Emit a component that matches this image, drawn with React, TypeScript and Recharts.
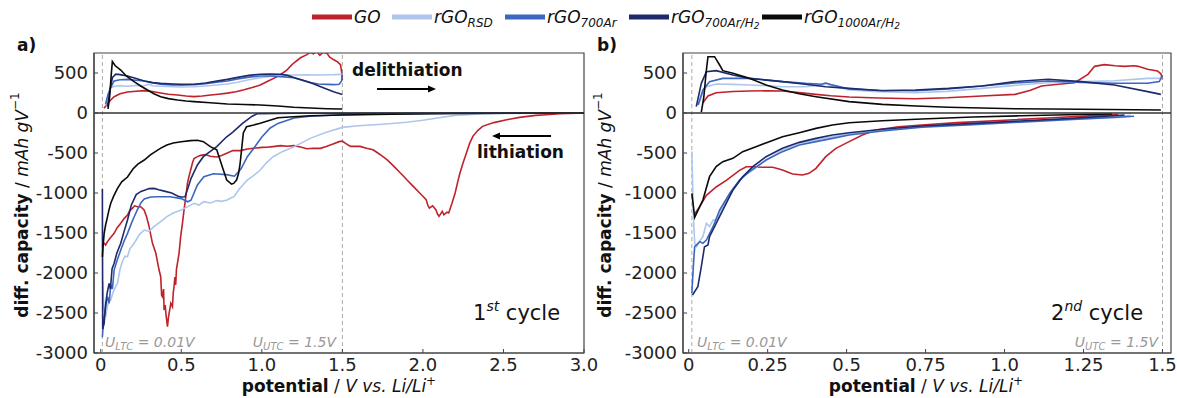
import { LineChart, Line, XAxis, YAxis, ReferenceLine, ReferenceArea } from 'recharts';

type Pt = [number, number];

// ---- 1st cycle, delithiation (potential V, dQ/dV mAh g-1 V-1)
const goDeli1: Pt[] = [[0.02, 60], [0.04, 110], [0.062, 163], [0.083, 204], [0.12, 240], [0.166, 262], [0.22, 272], [0.27, 280], [0.32, 268], [0.372, 250], [0.42, 235], [0.476, 225], [0.53, 212], [0.579, 205], [0.63, 212], [0.683, 225], [0.73, 235], [0.786, 248], [0.84, 265], [0.89, 290], [0.94, 318], [0.99, 350], [1.04, 400], [1.095, 455], [1.13, 500], [1.157, 540], [1.18, 590], [1.198, 625], [1.24, 690], [1.28, 730], [1.3, 760], [1.32, 740], [1.34, 770], [1.36, 720], [1.38, 760], [1.405, 745], [1.42, 700], [1.447, 665], [1.47, 640], [1.488, 605], [1.495, 520], [1.5, 410]];
const rsdDeli1: Pt[] = [[0.03, 90], [0.045, 220], [0.062, 315], [0.083, 335], [0.12, 340], [0.166, 335], [0.22, 345], [0.27, 340], [0.3, 360], [0.32, 340], [0.372, 335], [0.45, 330], [0.5, 325], [0.579, 328], [0.65, 338], [0.72, 350], [0.786, 362], [0.85, 385], [0.92, 415], [0.99, 440], [1.05, 458], [1.12, 470], [1.198, 475], [1.28, 478], [1.35, 475], [1.405, 478], [1.45, 480], [1.5, 485]];
const ar700Deli1: Pt[] = [[0.03, 110], [0.045, 230], [0.062, 320], [0.083, 400], [0.12, 415], [0.166, 420], [0.22, 410], [0.27, 400], [0.32, 380], [0.372, 360], [0.45, 352], [0.5, 350], [0.579, 355], [0.65, 365], [0.72, 385], [0.786, 400], [0.85, 425], [0.92, 448], [0.99, 462], [1.05, 462], [1.12, 455], [1.198, 440], [1.25, 410], [1.3, 380], [1.35, 362], [1.405, 358], [1.45, 355], [1.48, 360], [1.495, 400], [1.5, 480]];
const h2Deli1: Pt[] = [[0.042, 80], [0.06, 320], [0.073, 445], [0.093, 485], [0.12, 480], [0.166, 462], [0.22, 430], [0.27, 400], [0.32, 380], [0.372, 370], [0.45, 362], [0.5, 358], [0.579, 360], [0.65, 375], [0.72, 398], [0.786, 420], [0.85, 445], [0.92, 470], [0.99, 485], [1.05, 488], [1.116, 485], [1.16, 470], [1.198, 445], [1.25, 412], [1.3, 380], [1.35, 340], [1.405, 298], [1.45, 262], [1.5, 232]];
const k1000Deli1: Pt[] = [[0.045, 50], [0.055, 200], [0.065, 480], [0.072, 642], [0.09, 590], [0.124, 537], [0.16, 460], [0.207, 392], [0.25, 335], [0.29, 287], [0.33, 240], [0.372, 204], [0.42, 180], [0.476, 163], [0.53, 150], [0.579, 142], [0.68, 128], [0.786, 113], [0.89, 106], [0.99, 100], [1.1, 88], [1.198, 72], [1.3, 62], [1.405, 54], [1.5, 50]];

// ---- 1st cycle, lithiation
const goLi1: Pt[] = [[0.01, -1630], [0.021, -1629], [0.03, -1650], [0.042, -1608], [0.06, -1560], [0.083, -1504], [0.1, -1440], [0.124, -1379], [0.145, -1320], [0.166, -1275], [0.18, -1220], [0.196, -1192], [0.21, -1160], [0.228, -1171], [0.248, -1171], [0.269, -1212], [0.285, -1300], [0.3, -1421], [0.321, -1629], [0.342, -1754], [0.362, -1963], [0.372, -2046], [0.378, -2280], [0.383, -2296], [0.39, -2200], [0.393, -2463], [0.4, -2400], [0.405, -2520], [0.414, -2671], [0.42, -2560], [0.424, -2504], [0.435, -2380], [0.445, -2421], [0.45, -2250], [0.455, -2171], [0.46, -2050], [0.465, -2150], [0.47, -1950], [0.486, -1754], [0.496, -1546], [0.507, -1380], [0.517, -1212], [0.528, -1050], [0.538, -879], [0.548, -790], [0.558, -713], [0.57, -620], [0.579, -570], [0.6, -545], [0.62, -530], [0.65, -520], [0.68, -540], [0.72, -550], [0.75, -530], [0.785, -500], [0.82, -470], [0.868, -470], [0.91, -450], [0.95, -440], [1.0, -430], [1.03, -429], [1.07, -420], [1.116, -408], [1.16, -415], [1.199, -408], [1.24, -425], [1.28, -446], [1.32, -440], [1.364, -442], [1.4, -420], [1.446, -383], [1.48, -358], [1.5, -350], [1.52, -380], [1.55, -417], [1.61, -417], [1.65, -440], [1.69, -459], [1.72, -500], [1.75, -542], [1.78, -590], [1.82, -667], [1.86, -750], [1.88, -790], [1.9, -834], [1.94, -917], [1.98, -1000], [2.0, -1040], [2.02, -1083], [2.03, -1150], [2.04, -1188], [2.06, -1160], [2.08, -1209], [2.09, -1260], [2.1, -1292], [2.12, -1230], [2.13, -1271], [2.15, -1240], [2.16, -1250], [2.18, -1130], [2.2, -1000], [2.215, -870], [2.23, -750], [2.25, -620], [2.27, -500], [2.29, -380], [2.31, -292], [2.34, -220], [2.37, -167], [2.44, -120], [2.52, -84], [2.6, -55], [2.7, -30], [2.765, -21], [2.85, -10], [2.95, -4], [3.0, -2]];
const rsdLi1: Pt[] = [[0.012, -2100], [0.02, -2450], [0.031, -2546], [0.04, -2420], [0.05, -2360], [0.062, -2338], [0.075, -2250], [0.09, -2180], [0.104, -2129], [0.12, -1950], [0.135, -1850], [0.15, -1790], [0.166, -1796], [0.18, -1700], [0.207, -1629], [0.24, -1520], [0.27, -1463], [0.3, -1480], [0.33, -1421], [0.37, -1360], [0.41, -1296], [0.45, -1250], [0.5, -1212], [0.54, -1170], [0.579, -1129], [0.61, -1150], [0.64, -1108], [0.68, -1125], [0.72, -1095], [0.75, -1105], [0.785, -1088], [0.81, -1060], [0.827, -1046], [0.86, -950], [0.91, -838], [0.95, -780], [0.99, -713], [1.03, -620], [1.07, -546], [1.13, -480], [1.2, -421], [1.25, -370], [1.3, -317], [1.4, -240], [1.5, -180], [1.6, -160], [1.75, -140], [1.9, -115], [2.0, -90], [2.1, -60], [2.2, -30], [2.35, -12], [2.5, -5], [2.75, -2], [3.0, -1]];
const ar700Li1: Pt[] = [[0.01, -2800], [0.015, -2650], [0.021, -2546], [0.03, -2420], [0.042, -2296], [0.052, -2380], [0.062, -2150], [0.072, -2200], [0.083, -1963], [0.1, -1850], [0.124, -1713], [0.145, -1600], [0.166, -1504], [0.19, -1380], [0.207, -1300], [0.227, -1212], [0.25, -1120], [0.27, -1075], [0.31, -1050], [0.35, -1046], [0.43, -1046], [0.5, -1070], [0.54, -1110], [0.56, -1090], [0.6, -900], [0.64, -796], [0.7, -760], [0.78, -770], [0.83, -790], [0.87, -700], [0.91, -546], [0.95, -440], [1.0, -300], [1.05, -190], [1.1, -130], [1.2, -63], [1.3, -40], [1.5, -22], [1.75, -12], [2.0, -6], [2.5, -2], [3.0, -1]];
const h2Li1: Pt[] = [[0.01, -950], [0.012, -2700], [0.021, -2629], [0.031, -2379], [0.04, -2250], [0.052, -2129], [0.06, -2200], [0.07, -1950], [0.083, -1879], [0.1, -1750], [0.124, -1629], [0.145, -1480], [0.166, -1338], [0.19, -1150], [0.22, -1020], [0.25, -980], [0.28, -960], [0.3, -945], [0.33, -942], [0.36, -960], [0.4, -980], [0.44, -1000], [0.48, -1040], [0.5, -1050], [0.523, -1046], [0.544, -921], [0.56, -820], [0.575, -754], [0.6, -650], [0.637, -546], [0.68, -480], [0.72, -420], [0.78, -300], [0.82, -240], [0.88, -130], [0.94, -40], [0.97, -10], [1.2, -4], [1.5, -3], [2.0, -1], [3.0, 0]];
const k1000Li1: Pt[] = [[0.01, -1800], [0.015, -1650], [0.021, -1504], [0.03, -1400], [0.042, -1296], [0.05, -1220], [0.062, -1129], [0.08, -1040], [0.104, -942], [0.13, -860], [0.166, -800], [0.2, -700], [0.23, -640], [0.27, -588], [0.31, -520], [0.37, -442], [0.41, -400], [0.45, -375], [0.5, -360], [0.557, -345], [0.6, -340], [0.637, -358], [0.68, -421], [0.72, -460], [0.761, -713], [0.782, -838], [0.812, -888], [0.825, -880], [0.843, -838], [0.855, -760], [0.864, -650], [0.874, -463], [0.885, -250], [0.905, -171], [0.95, -150], [0.99, -129], [1.05, -90], [1.1, -60], [1.196, -46], [1.3, -35], [1.5, -25], [1.8, -15], [2.2, -6], [2.6, -2], [3.0, 0]];

// ---- 2nd cycle, delithiation
const goDeli2: Pt[] = [[0.045, 129], [0.061, 213], [0.087, 254], [0.14, 268], [0.192, 275], [0.25, 278], [0.297, 275], [0.35, 255], [0.403, 233], [0.45, 215], [0.508, 200], [0.6, 188], [0.717, 179], [0.82, 190], [0.928, 213], [1.033, 233], [1.08, 280], [1.117, 338], [1.17, 360], [1.222, 379], [1.264, 483], [1.285, 583], [1.316, 604], [1.35, 590], [1.38, 583], [1.41, 590], [1.423, 583], [1.453, 546], [1.484, 525], [1.495, 490], [1.5, 421]];
const rsdDeli2: Pt[] = [[0.03, 100], [0.045, 250], [0.056, 329], [0.087, 362], [0.14, 358], [0.192, 350], [0.25, 340], [0.297, 329], [0.37, 330], [0.42, 350], [0.434, 370], [0.45, 345], [0.508, 288], [0.6, 265], [0.717, 254], [0.82, 270], [0.928, 308], [1.033, 345], [1.138, 379], [1.243, 392], [1.348, 404], [1.453, 433], [1.5, 433]];
const ar700Deli2: Pt[] = [[0.03, 100], [0.045, 288], [0.066, 392], [0.108, 433], [0.192, 433], [0.297, 392], [0.37, 370], [0.42, 360], [0.434, 375], [0.45, 355], [0.508, 300], [0.6, 285], [0.717, 279], [0.82, 300], [0.928, 338], [1.033, 375], [1.138, 400], [1.243, 383], [1.348, 371], [1.453, 371], [1.49, 392], [1.5, 475]];
const h2Deli2: Pt[] = [[0.024, 79], [0.04, 371], [0.056, 517], [0.087, 529], [0.14, 475], [0.192, 433], [0.297, 392], [0.37, 360], [0.434, 329], [0.508, 308], [0.613, 279], [0.717, 288], [0.823, 308], [0.928, 338], [1.033, 392], [1.138, 421], [1.243, 392], [1.348, 350], [1.453, 267], [1.495, 233]];
const k1000Deli2: Pt[] = [[0.04, 10], [0.048, 200], [0.055, 500], [0.061, 704], [0.082, 704], [0.098, 600], [0.108, 529], [0.14, 496], [0.192, 433], [0.245, 350], [0.297, 288], [0.35, 240], [0.403, 204], [0.508, 142], [0.613, 108], [0.72, 88], [0.823, 71], [1.033, 54], [1.243, 46], [1.495, 38]];

// ---- 2nd cycle, lithiation
const goLi2: Pt[] = [[0.015, -1283], [0.035, -1171], [0.056, -1029], [0.087, -925], [0.119, -842], [0.14, -779], [0.161, -717], [0.182, -671], [0.203, -671], [0.234, -679], [0.266, -679], [0.297, -713], [0.329, -763], [0.36, -775], [0.381, -754], [0.403, -692], [0.434, -546], [0.466, -442], [0.508, -358], [0.55, -275], [0.592, -213], [0.665, -171], [0.738, -150], [0.85, -120], [1.0, -90], [1.15, -60], [1.3, -30], [1.36, -18]];
const rsdLi2: Pt[] = [[0.01, -480], [0.015, -1300], [0.019, -1629], [0.025, -1671], [0.035, -1600], [0.045, -1546], [0.056, -1379], [0.066, -1420], [0.077, -1338], [0.087, -1338], [0.108, -1171], [0.14, -963], [0.171, -796], [0.203, -713], [0.245, -588], [0.297, -463], [0.35, -379], [0.403, -338], [0.455, -296], [0.508, -263], [0.613, -213], [0.738, -171], [0.9, -135], [1.05, -105], [1.2, -75], [1.35, -45], [1.4, -30]];
const ar700Li2: Pt[] = [[0.01, -2250], [0.015, -1900], [0.019, -1671], [0.035, -1608], [0.045, -1629], [0.056, -1588], [0.077, -1421], [0.098, -1213], [0.13, -1004], [0.161, -838], [0.192, -733], [0.245, -588], [0.297, -483], [0.35, -400], [0.403, -358], [0.455, -317], [0.508, -275], [0.613, -225], [0.738, -179], [0.9, -145], [1.05, -115], [1.2, -85], [1.35, -55], [1.41, -40]];
const h2Li2: Pt[] = [[0.012, -2275], [0.029, -2171], [0.04, -1921], [0.05, -1671], [0.061, -1650], [0.066, -1546], [0.087, -1379], [0.108, -1213], [0.14, -963], [0.171, -796], [0.203, -671], [0.245, -546], [0.297, -442], [0.35, -367], [0.403, -317], [0.455, -275], [0.508, -246], [0.613, -204], [0.738, -163], [0.9, -130], [1.05, -100], [1.2, -70], [1.3, -45], [1.38, -25]];
const k1000Li2: Pt[] = [[0.01, -1004], [0.019, -1304], [0.035, -1171], [0.045, -1088], [0.066, -796], [0.087, -671], [0.108, -608], [0.14, -567], [0.171, -483], [0.213, -421], [0.255, -358], [0.297, -296], [0.35, -246], [0.403, -192], [0.455, -150], [0.508, -121], [0.613, -96], [0.738, -75], [0.9, -50], [1.05, -35], [1.2, -22], [1.34, -12]];

// ---- axes
const yTicks = [-3000, -2500, -2000, -1500, -1000, -500, 0, 500];
const xTicks1 = [0, 0.5, 1, 1.5, 2, 2.5, 3];
const xLabels1 = ['0', '0.5', '1.0', '1.5', '2.0', '2.5', '3.0'];
const xTicks2 = [0, 0.25, 0.5, 0.75, 1, 1.25, 1.5];
const xLabels2 = ['0', '0.25', '0.5', '0.75', '1.0', '1.25', '1.5'];

const COLORS = ['#c0222b', '#aec6ec', '#3d66bf', '#1d2a6b', '#0a0a0a'];
const FONT = "'DejaVu Sans', sans-serif";

const toRows = (pts: Pt[]) => pts.map(([x, y]) => ({ x, y }));

interface PanelProps {
  left: number;
  width: number;
  mLeft: number;
  mRight: number;
  xDomain: [number, number];
  xTicks: number[];
  xLabels: string[];
  series: Pt[][];
}

function Panel({ left, width, mLeft, mRight, xDomain, xTicks, xLabels, series }: PanelProps) {
  const tick = { fontSize: 18, fill: '#222', fontFamily: FONT };
  return (
    <div style={{ position: 'absolute', left, top: 0 }}>
      <LineChart width={width} height={398} margin={{ top: 53, right: mRight, bottom: 15, left: mLeft }}>
        <XAxis
          type="number"
          dataKey="x"
          domain={xDomain}
          ticks={xTicks}
          tickFormatter={(v: number) => xLabels[xTicks.indexOf(v)] ?? String(v)}
          allowDataOverflow
          height={30}
          tick={tick}
          tickSize={-4}
          tickMargin={9}
          axisLine={{ stroke: '#444', strokeWidth: 1.2 }}
          tickLine={{ stroke: '#444' }}
        />
        <YAxis
          type="number"
          domain={[-3000, 750]}
          ticks={yTicks}
          allowDataOverflow
          width={60}
          tick={tick}
          tickSize={-4}
          tickMargin={10}
          axisLine={{ stroke: '#444', strokeWidth: 1.2 }}
          tickLine={{ stroke: '#444' }}
        />
        <ReferenceArea x1={xDomain[0]} x2={xDomain[1]} y1={-3000} y2={750} fill="none" stroke="#444" strokeWidth={1.2} />
        <ReferenceLine x={0.01} stroke="#aaa" strokeDasharray="4 3" />
        <ReferenceLine x={1.5} stroke="#aaa" strokeDasharray="4 3" />
        {series.map((pts, i) => (
          <Line
            key={i}
            data={toRows(pts)}
            dataKey="y"
            type="linear"
            dot={false}
            stroke={COLORS[i % 5]}
            strokeWidth={1.6}
            isAnimationActive={false}
          />
        ))}
        <ReferenceLine y={0} stroke="#333" strokeWidth={1.6} />
      </LineChart>
    </div>
  );
}

function Arrow({ x1, x2, y }: { x1: number; x2: number; y: number }) {
  const d = x2 > x1 ? 1 : -1;
  return (
    <g>
      <line x1={x1} y1={y} x2={x2 - d * 6} y2={y} stroke="#000" strokeWidth={2} />
      <polygon points={`${x2},${y} ${x2 - d * 8},${y - 3.5} ${x2 - d * 8},${y + 3.5}`} fill="#000" />
    </g>
  );
}

function YTitle({ x }: { x: number }) {
  return (
    <text transform={`rotate(-90 ${x} 205)`} x={x} y={205} textAnchor="middle" dominantBaseline="central" fontSize={17} fill="#111">
      <tspan fontWeight="bold">diff. capacity</tspan>
      <tspan> / </tspan>
      <tspan fontStyle="italic">mAh gV</tspan>
      <tspan fontSize={12} dy={-7}>−1</tspan>
    </text>
  );
}

function XTitle({ x }: { x: number }) {
  return (
    <text x={x} y={392} textAnchor="middle" fontSize={17} fill="#111">
      <tspan fontWeight="bold">potential</tspan>
      <tspan> / </tspan>
      <tspan fontStyle="italic">V vs. Li/Li</tspan>
      <tspan fontSize={12} dy={-7}>+</tspan>
    </text>
  );
}

function ULabel({ x, sub, val, anchor = 'start' }: { x: number; sub: string; val: string; anchor?: 'start' | 'end' }) {
  return (
    <text x={x} y={347} fontSize={14} fill="#999" fontStyle="italic" textAnchor={anchor}>
      U<tspan fontSize={10} dy={3}>{sub}</tspan>
      <tspan dy={-3}>{` = ${val}`}</tspan>
    </text>
  );
}

const legendItems = [
  { x: 312, main: 'GO', sub: '', sub2: '' },
  { x: 392, main: 'rGO', sub: 'RSD', sub2: '' },
  { x: 505, main: 'rGO', sub: '700Ar', sub2: '' },
  { x: 629, main: 'rGO', sub: '700Ar/H', sub2: '2' },
  { x: 762, main: 'rGO', sub: '1000Ar/H', sub2: '2' },
];

export default function App() {
  const s1 = [goDeli1, rsdDeli1, ar700Deli1, h2Deli1, k1000Deli1, goLi1, rsdLi1, ar700Li1, h2Li1, k1000Li1];
  const s2 = [goDeli2, rsdDeli2, ar700Deli2, h2Deli2, k1000Deli2, goLi2, rsdLi2, ar700Li2, h2Li2, k1000Li2];
  return (
    <div style={{ position: 'absolute', left: 0, top: 0, width: 1177, height: 398, background: '#fff', fontFamily: FONT }}>
      <Panel left={0} width={604} mLeft={34} mRight={20} xDomain={[-0.042, 3]} xTicks={xTicks1} xLabels={xLabels1} series={s1} />
      <Panel left={590} width={587} mLeft={33} mRight={6} xDomain={[-0.018, 1.527]} xTicks={xTicks2} xLabels={xLabels2} series={s2} />
      <svg width={1177} height={398} style={{ position: 'absolute', left: 0, top: 0, pointerEvents: 'none' }} fontFamily={FONT}>
        {legendItems.map((it, i) => (
          <g key={i}>
            <line x1={it.x} x2={it.x + 40} y1={17} y2={17} stroke={COLORS[i]} strokeWidth={5} />
            <text x={it.x + 42} y={23} fontSize={17} fontStyle="italic" fill="#111">
              {it.main}
              {it.sub && <tspan fontSize={12} dy={4}>{it.sub}</tspan>}
              {it.sub2 && <tspan fontSize={9} dy={2}>{it.sub2}</tspan>}
            </text>
          </g>
        ))}
        <text x={17} y={51} fontSize={17} fontWeight="bold" fill="#111">a)</text>
        <text x={597} y={51} fontSize={17} fontWeight="bold" fill="#111">b)</text>
        <YTitle x={22} />
        <YTitle x={605} />
        <XTitle x={339} />
        <XTitle x={926} />
        <text x={352} y={76} fontSize={17} fontWeight="bold" fill="#111">delithiation</text>
        <Arrow x1={377} x2={436} y={89} />
        <text x={477} y={158} fontSize={17} fontWeight="bold" fill="#111">lithiation</text>
        <Arrow x1={551} x2={492} y={136} />
        <text x={473} y={320} fontSize={21} fill="#111">
          1<tspan fontSize={14} dy={-9} fontStyle="italic">st</tspan>
          <tspan dy={9}> cycle</tspan>
        </text>
        <text x={1051} y={320} fontSize={21} fill="#111">
          2<tspan fontSize={14} dy={-9} fontStyle="italic">nd</tspan>
          <tspan dy={9}> cycle</tspan>
        </text>
        <ULabel x={105} sub="LTC" val="0.01V" />
        <ULabel x={336} sub="UTC" val="1.5V" anchor="end" />
        <ULabel x={697} sub="LTC" val="0.01V" />
        <ULabel x={1158} sub="UTC" val="1.5V" anchor="end" />
      </svg>
    </div>
  );
}
